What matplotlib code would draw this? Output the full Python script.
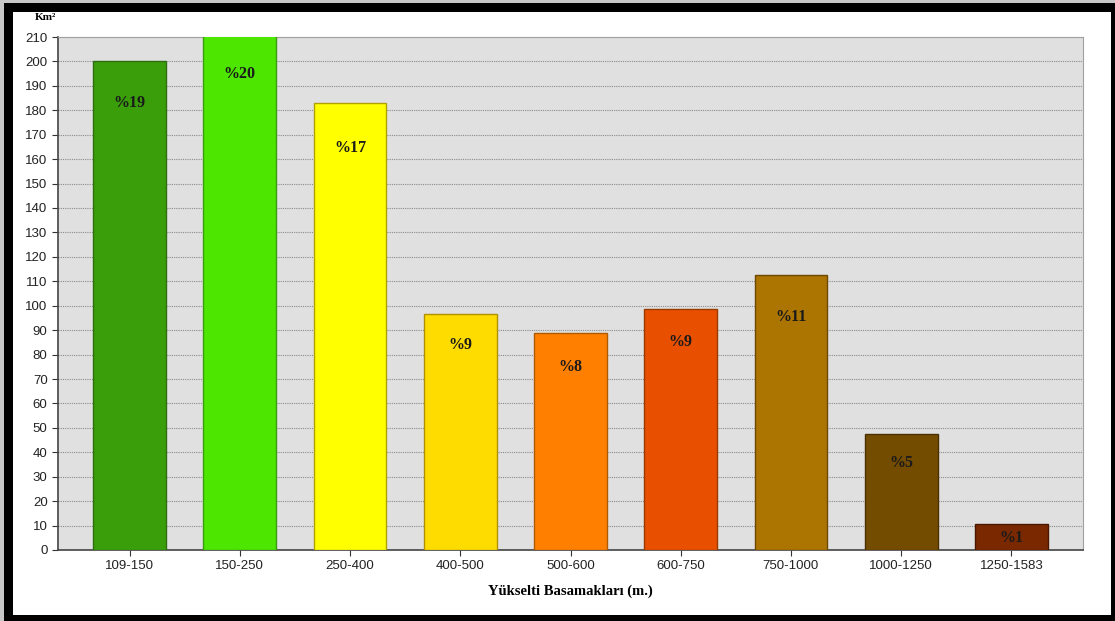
import numpy as np
import matplotlib.pyplot as plt
from matplotlib.patches import Rectangle

# yükselti basamakları ve alanları (km²)
categories = ['109-150', '150-250', '250-400', '400-500', '500-600',
              '600-750', '750-1000', '1000-1250', '1250-1583']
areas = [200, 211, 183, 96.5, 89, 98.5, 112.5, 47.5, 10.5]
percent_labels = ['%19', '%20', '%17', '%9', '%8', '%9', '%11', '%5', '%1']
label_y = [183, 195, 164.5, 84, 75, 85.3, 95.5, 35.5, 4.8]

bar_colors = ['#3a9e0a', '#4ce600', '#ffff00', '#ffdc00', '#ff8000',
              '#e85000', '#ac7400', '#734c00', '#7a2800']
edge_colors = ['#2d6e10', '#3d9a10', '#b0a000', '#b09000', '#b05a00',
               '#9a3a00', '#6e4a00', '#4a3000', '#4a1800']

W, H = 1115, 621
fig = plt.figure(figsize=(W / 100, H / 100), dpi=100)
fig.patch.set_facecolor('#c8c8c8')

# siyah çerçeve ve beyaz zemin
fig.patches.append(Rectangle((4 / W, 0), 1 - 4 / W, 1 - 3 / H,
                             transform=fig.transFigure, facecolor='black',
                             edgecolor='none', zorder=-10))
fig.patches.append(Rectangle((13 / W, 6 / H), (1111 - 13) / W, (615 - 12) / H,
                             transform=fig.transFigure, facecolor='white',
                             edgecolor='none', zorder=-9))

ax = fig.add_axes([58 / W, 1 - 550 / H, (1083 - 58) / W, (550 - 37) / H])
ax.set_zorder(1)
ax.set_facecolor('#e0e0e0')

x = np.arange(len(categories))
ax.bar(x, areas, width=0.66, color=bar_colors, edgecolor=edge_colors,
       linewidth=1, zorder=3)

for xi, lab, ly in zip(x, percent_labels, label_y):
    ax.text(xi, ly, lab, ha='center', va='center', fontsize=11.5,
            fontweight='bold', family='Liberation Serif', color='#1a1a1a',
            zorder=4)

ax.set_xlim(-0.65, len(categories) - 0.35)
ax.set_ylim(0, 210)
ax.set_yticks(np.arange(0, 211, 10))
ax.set_xticks(x)
ax.set_xticklabels(categories)
ax.tick_params(axis='both', labelsize=9.5, colors='#333333', length=4,
               labelcolor='#222222')
for lab in ax.get_xticklabels() + ax.get_yticklabels():
    lab.set_family('Liberation Sans')

ax.yaxis.grid(True, linestyle=(0, (1, 1)), color='#8a8a8a', linewidth=0.8,
              zorder=1)
ax.set_axisbelow(True)

for side in ['left', 'bottom']:
    ax.spines[side].set_color('#444444')
    ax.spines[side].set_linewidth(1.2)
for side in ['top', 'right']:
    ax.spines[side].set_color('#a0a0a0')
    ax.spines[side].set_linewidth(0.8)

ax.set_xlabel('Yükselti Basamakları (m.)', fontsize=10.5, fontweight='bold',
              family='Liberation Serif', labelpad=9)
fig.text(45 / W, 1 - 17 / H, 'Km²', fontsize=8, fontweight='bold',
         family='Liberation Serif', ha='center', va='center')

plt.savefig('out.png', dpi=100, facecolor=fig.get_facecolor())
